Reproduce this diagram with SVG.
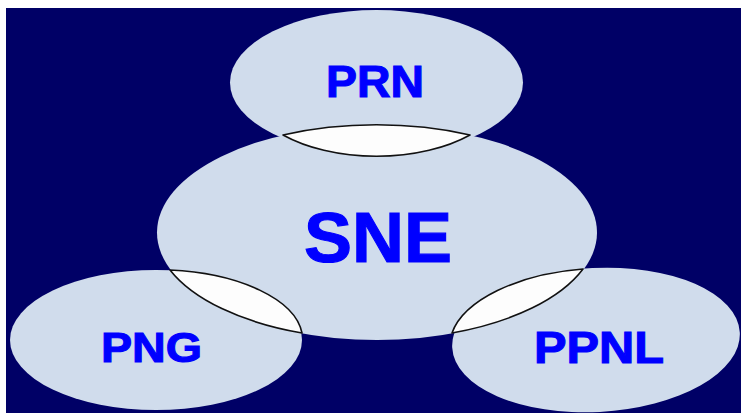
<svg xmlns="http://www.w3.org/2000/svg" width="741" height="413" viewBox="0 0 741 413">
  <style>
    .set { fill: #D0DCEC; }
    .lens { fill: #FDFDFD; stroke: #111111; stroke-width: 1.6; stroke-linejoin: round; }
    .lbl { font-family: "Liberation Sans", Arial, Helvetica, sans-serif; font-weight: bold; fill: #0000FF; stroke: #0000FF; stroke-width: 1.1; text-anchor: middle; }
  </style>
  <rect x="0" y="0" width="741" height="413" fill="#FFFFFF"/>
  <rect x="6" y="8" width="735" height="405" fill="#000066"/>

  <g id="node-PRN">
    <ellipse class="set" cx="376.5" cy="82.5" rx="146.5" ry="72.5"/>
  </g>
  <g id="node-PNG">
    <ellipse class="set" cx="156" cy="340" rx="146" ry="70"/>
  </g>
  <g id="node-PPNL">
    <ellipse class="set" cx="596" cy="340" rx="144" ry="72" transform="rotate(-3 596 340)"/>
  </g>
  <g id="node-SNE">
    <ellipse class="set" cx="377" cy="232.5" rx="220" ry="107.5"/>
  </g>

  <g id="overlaps">
    <path class="lens" d="M283,135 A220,107.5 0 0 1 470,135 A132,72.5 0 0 1 283,135 Z"/>
    <path class="lens" d="M170,270 A220,107.5 0 0 0 302,333 A146,70 0 0 0 170,270 Z"/>
    <path class="lens" d="M452,333 A220,107.5 0 0 0 583,269 A144,72 -3 0 0 452,333 Z"/>
  </g>

  <g id="labels">
    <text class="lbl" x="375" y="97" font-size="45" textLength="98" lengthAdjust="spacingAndGlyphs">PRN</text>
    <text class="lbl" x="378" y="262" font-size="70" textLength="148" lengthAdjust="spacingAndGlyphs">SNE</text>
    <text class="lbl" x="151.5" y="362" font-size="43" textLength="101" lengthAdjust="spacingAndGlyphs">PNG</text>
    <text class="lbl" x="599" y="363" font-size="45" textLength="130" lengthAdjust="spacingAndGlyphs">PPNL</text>
  </g>
</svg>
